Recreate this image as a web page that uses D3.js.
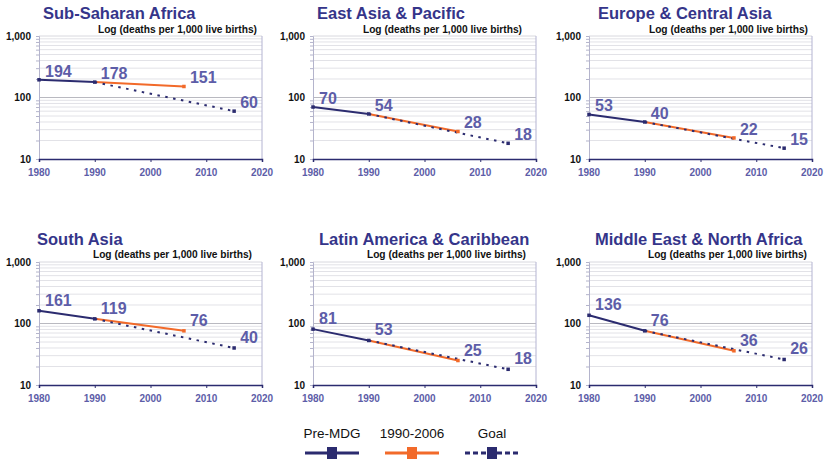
<!DOCTYPE html>
<html>
<head>
<meta charset="utf-8">
<script src="https://cdn.jsdelivr.net/npm/d3@7/dist/d3.min.js"></script>
<style>
  html, body { margin: 0; padding: 0; background: #ffffff; }
  svg { display: block; font-family: "Liberation Sans", Arial, Helvetica, sans-serif; }
</style>
</head>
<body>
<svg id="chart" width="825" height="459"></svg>
<script>
// Under-five mortality by region (deaths per 1,000 live births)
const regions = [
  "Sub-Saharan Africa", "East Asia & Pacific", "Europe & Central Asia",
  "South Asia", "Latin America & Caribbean", "Middle East & North Africa"
];
const v1980 = [194, 70, 53, 161, 81, 136];
const v1990 = [178, 54, 40, 119, 53, 76];
const v2006 = [151, 28, 22, 76, 25, 36];
const goal2015 = [60, 18, 15, 40, 18, 26];

const xTicks = [1980, 1990, 2000, 2010, 2020];
const yTicks = [10, 100, 1000];
const yTickLabels = ["10", "100", "1,000"];
const subtitle = "Log (deaths per 1,000 live births)";
const legendNames = ["Pre-MDG", "1990-2006", "Goal"];

// layout
const colLeft = [39, 313, 589];
const rowTop = [36, 262];
const plotW = 223, plotH = 123;
const titleX = [43, 317, 598, 37, 319, 595];
const subEndX = [257, 522, 808, 252, 526, 807];

const NAVY = "#2b2b6f", ORANGE = "#f26a2a", TITLE = "#35358a", LABEL = "#5d5da8";

const svg = d3.select("#chart");

regions.forEach((name, i) => {
  const col = i % 3, row = Math.floor(i / 3);
  const x0 = colLeft[col], y0 = rowTop[row];
  const g = svg.append("g").attr("transform", `translate(${x0},${y0})`);

  const x = d3.scaleLinear().domain([1980, 2020]).range([0, plotW]);
  const y = d3.scaleLog().domain([10, 1000]).range([plotH, 0]);

  // minor gridlines
  const minor = [];
  [10, 100].forEach(d => { for (let k = 2; k <= 9; k++) minor.push(d * k); });
  g.selectAll(".minor").data(minor).enter().append("line")
    .attr("x1", 0).attr("x2", plotW)
    .attr("y1", d => y(d)).attr("y2", d => y(d))
    .attr("stroke", "#e2e2e7").attr("stroke-width", 1);
  // major gridlines
  g.selectAll(".major").data([100, 1000]).enter().append("line")
    .attr("x1", 0).attr("x2", plotW)
    .attr("y1", d => y(d)).attr("y2", d => y(d))
    .attr("stroke", d => d === 100 ? "#b9b9c0" : "#d8d8de").attr("stroke-width", 1);

  // right border
  g.append("line").attr("x1", plotW).attr("x2", plotW).attr("y1", 0).attr("y2", plotH)
    .attr("stroke", "#b4b4d2").attr("stroke-width", 1);

  // y axis
  const yAxis = d3.axisLeft(y).tickValues(minor.concat([1000])).tickSize(3).tickFormat("");
  const ya = g.append("g").call(yAxis);
  ya.select(".domain").attr("stroke", "#b4b4cc");
  ya.selectAll(".tick line").attr("stroke", "#b4b4cc");
  g.selectAll(".ylab").data(yTicks).enter().append("text")
    .attr("x", -8).attr("y", d => y(d)).attr("dy", "0.35em")
    .attr("text-anchor", "end").attr("font-size", 10).attr("font-weight", "bold")
    .attr("fill", "#111").text((d, k) => yTickLabels[k]);

  // x axis
  const xAxis = d3.axisBottom(x).tickValues(xTicks).tickSize(3).tickFormat("");
  const xa = g.append("g").attr("transform", `translate(0,${plotH})`).call(xAxis);
  xa.select(".domain").attr("stroke", NAVY).attr("stroke-width", 1.5);
  xa.selectAll(".tick line").attr("stroke", NAVY);
  g.selectAll(".xlab").data(xTicks).enter().append("text")
    .attr("x", d => x(d)).attr("y", plotH + 17)
    .attr("text-anchor", "middle").attr("font-size", 10).attr("font-weight", "bold")
    .attr("fill", LABEL).text(d => d);

  const line = d3.line().x(d => x(d[0])).y(d => y(d[1]));

  // pre-MDG trend
  g.append("path").datum([[1980, v1980[i]], [1990, v1990[i]]])
    .attr("d", line).attr("fill", "none").attr("stroke", NAVY).attr("stroke-width", 2);
  // 1990-2006 progress
  g.append("path").datum([[1990, v1990[i]], [2006, v2006[i]]])
    .attr("d", line).attr("fill", "none").attr("stroke", ORANGE).attr("stroke-width", 2);
  // goal path
  g.append("path").datum([[1990, v1990[i]], [2015, goal2015[i]]])
    .attr("d", line).attr("fill", "none").attr("stroke", NAVY).attr("stroke-width", 2)
    .attr("stroke-dasharray", "2.5,5.5");

  // markers
  const pts = [
    [1980, v1980[i], NAVY], [1990, v1990[i], NAVY],
    [2006, v2006[i], ORANGE], [2015, goal2015[i], NAVY]
  ];
  g.selectAll(".mk").data(pts).enter().append("rect")
    .attr("x", d => x(d[0]) - 1.75).attr("y", d => y(d[1]) - 1.75)
    .attr("width", 3.5).attr("height", 3.5).attr("fill", d => d[2]);

  // value labels
  g.selectAll(".val").data(pts).enter().append("text")
    .attr("x", d => x(d[0]) + 6).attr("y", d => y(d[1]) - (row === 0 ? 3 : 5))
    .attr("font-size", 16).attr("font-weight", "bold").attr("fill", LABEL)
    .text(d => d[1]);

  // title and unit note
  svg.append("text").attr("x", titleX[i]).attr("y", row === 0 ? 19 : 245)
    .attr("font-size", 16.5).attr("font-weight", "bold").attr("fill", TITLE).text(name);
  svg.append("text").attr("x", subEndX[i]).attr("y", row === 0 ? 33 : 258)
    .attr("text-anchor", "end").attr("font-size", 10.2).attr("font-weight", "bold")
    .attr("fill", "#111").text(subtitle);
});

// legend
const legendX = [332, 412, 492];
const legendColors = [NAVY, ORANGE, NAVY];
const lg = svg.append("g");
legendNames.forEach((n, k) => {
  const cx = legendX[k];
  lg.append("text").attr("x", cx).attr("y", 438).attr("text-anchor", "middle")
    .attr("font-size", 13.5).attr("fill", "#111").text(n);
  lg.append("line").attr("x1", cx - 27).attr("x2", cx + 27).attr("y1", 453).attr("y2", 453)
    .attr("stroke", legendColors[k]).attr("stroke-width", 3)
    .attr("stroke-dasharray", k === 2 ? "5,3" : null);
  lg.append("rect").attr("x", cx - 5).attr("y", 447).attr("width", 10).attr("height", 12)
    .attr("fill", legendColors[k]);
});
</script>
</body>
</html>
